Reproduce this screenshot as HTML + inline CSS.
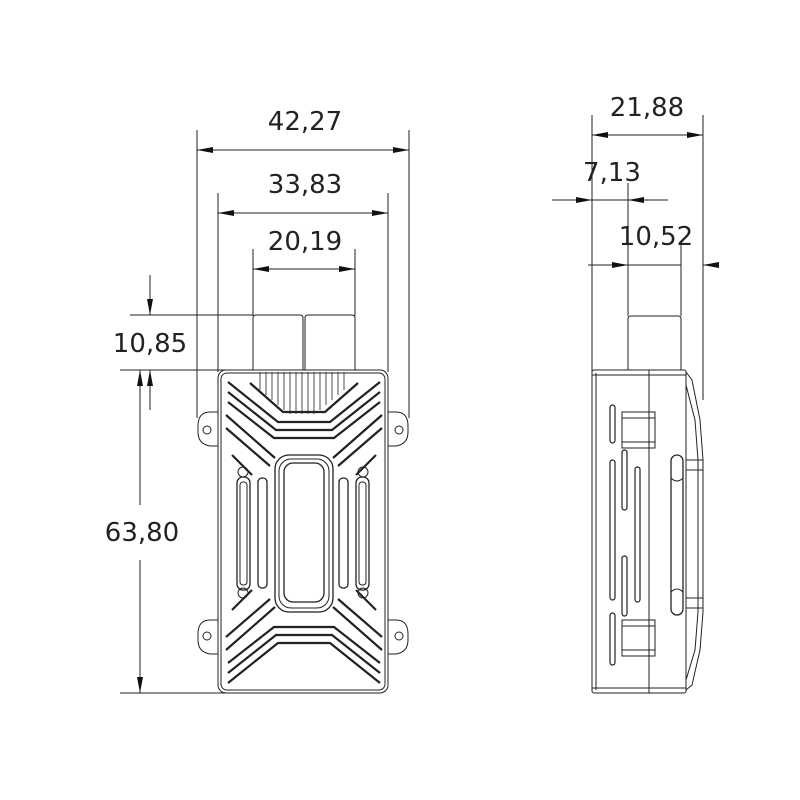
<!DOCTYPE html>
<html><head><meta charset="utf-8"><style>
html,body{margin:0;padding:0;background:#fff;width:800px;height:800px;overflow:hidden}
text{font-family:"DejaVu Sans","Liberation Sans",sans-serif;font-size:26px;fill:#222}
</style></head><body>
<svg width="800" height="800" viewBox="0 0 800 800" xmlns="http://www.w3.org/2000/svg">
<defs>
<marker id="a" viewBox="0 0 16 6" refX="16" refY="3" markerWidth="16" markerHeight="6" markerUnits="userSpaceOnUse" orient="auto-start-reverse"><path d="M0,0 L16,3 L0,6z" fill="#111"/></marker>
</defs>
<g stroke="#222" stroke-width="1" fill="none">
<line x1="197" y1="130" x2="197" y2="418"/>
<line x1="409" y1="130" x2="409" y2="418"/>
<line x1="218" y1="193" x2="218" y2="372"/>
<line x1="388" y1="193" x2="388" y2="372"/>
<line x1="253" y1="249" x2="253" y2="316"/>
<line x1="355" y1="249" x2="355" y2="316"/>
<line x1="130" y1="315" x2="253" y2="315"/>
<line x1="120" y1="370" x2="226" y2="370"/>
<line x1="120" y1="693" x2="226" y2="693"/>
<line x1="197" y1="150" x2="409" y2="150" marker-start="url(#a)" marker-end="url(#a)"/>
<line x1="218" y1="213" x2="388" y2="213" marker-start="url(#a)" marker-end="url(#a)"/>
<line x1="253" y1="269" x2="355" y2="269" marker-start="url(#a)" marker-end="url(#a)"/>
<line x1="150" y1="275" x2="150" y2="315" marker-end="url(#a)"/>
<line x1="150" y1="410" x2="150" y2="370" marker-end="url(#a)"/>
<line x1="140" y1="505" x2="140" y2="370" marker-end="url(#a)"/>
<line x1="140" y1="560" x2="140" y2="693" marker-end="url(#a)"/>
<path d="M253,370 V318 q0,-3 3,-3 H300 q3,0 3,3 V370"/>
<path d="M305,370 V318 q0,-3 3,-3 H352 q3,0 3,3 V370"/>
<path d="M218,412 H210 q-12,0 -12,14 v6 q0,12 12,14 H218"/>
<circle cx="207" cy="430" r="4"/>
<path d="M218,620 H210 q-12,0 -12,14 v6 q0,12 12,14 H218"/>
<circle cx="207" cy="636" r="4"/>
<path d="M388,412 H396 q12,0 12,14 v6 q0,12 -12,14 H388"/>
<circle cx="399" cy="430" r="4"/>
<path d="M388,620 H396 q12,0 12,14 v6 q0,12 -12,14 H388"/>
<circle cx="399" cy="636" r="4"/>
<rect x="218" y="370" width="170" height="323" rx="8"/>
<rect x="221" y="373" width="164" height="317" rx="6"/>
<g stroke-width="0.8">
<line x1="260" y1="372" x2="260" y2="390"/><line x1="266" y1="372" x2="266" y2="395"/>
<line x1="272" y1="372" x2="272" y2="400"/><line x1="278" y1="372" x2="278" y2="405"/>
<line x1="284" y1="372" x2="284" y2="410"/><line x1="290" y1="372" x2="290" y2="414"/>
<line x1="296" y1="372" x2="296" y2="414"/><line x1="302" y1="372" x2="302" y2="414"/>
<line x1="308" y1="372" x2="308" y2="414"/><line x1="314" y1="372" x2="314" y2="414"/>
<line x1="320" y1="372" x2="320" y2="410"/><line x1="326" y1="372" x2="326" y2="405"/>
<line x1="332" y1="372" x2="332" y2="400"/><line x1="338" y1="372" x2="338" y2="395"/>
<line x1="344" y1="372" x2="344" y2="390"/>
</g>
<g stroke-width="2.2">
<path d="M228,382 L278,422 H330 L380,382"/>
<path d="M228,392 L276,430 H332 L380,392"/>
<path d="M228,402 L274,438 H334 L380,402"/>
<path d="M250,383 L283,412 H325 L358,383"/>
<path d="M228,683 L278,643 H330 L380,683"/>
<path d="M228,673 L276,635 H332 L380,673"/>
<path d="M228,663 L274,627 H334 L380,663"/>
<path d="M226,415 L275,458"/><path d="M226,428 L270,466"/>
<path d="M382,415 L333,458"/><path d="M382,428 L338,466"/>
<path d="M226,650 L275,607"/><path d="M226,637 L270,599"/>
<path d="M382,650 L333,607"/><path d="M382,637 L338,599"/>
<path d="M232,455 L252,475"/><path d="M376,455 L356,475"/>
<path d="M232,610 L252,590"/><path d="M376,610 L356,590"/>
</g>
<rect x="275" y="455" width="58" height="157" rx="14" stroke-width="1.3"/>
<rect x="279" y="459" width="50" height="149" rx="12"/>
<rect x="284" y="463" width="40" height="139" rx="9" stroke-width="1.3"/>
<rect x="237" y="477" width="13" height="113" rx="6" stroke-width="1.3"/>
<rect x="240" y="482" width="7" height="103" rx="3"/>
<rect x="258" y="478" width="9" height="110" rx="4" stroke-width="1.3"/>
<rect x="356" y="477" width="13" height="113" rx="6" stroke-width="1.3"/>
<rect x="359" y="482" width="7" height="103" rx="3"/>
<rect x="339" y="478" width="9" height="110" rx="4" stroke-width="1.3"/>
<circle cx="243" cy="472" r="5"/><circle cx="243" cy="593" r="5"/>
<circle cx="363" cy="472" r="5"/><circle cx="363" cy="593" r="5"/>

<line x1="592" y1="115" x2="592" y2="372"/>
<line x1="703" y1="115" x2="703" y2="400"/>
<line x1="628" y1="183" x2="628" y2="316"/>
<line x1="681" y1="245" x2="681" y2="316"/>
<line x1="592" y1="135" x2="703" y2="135" marker-start="url(#a)" marker-end="url(#a)"/>
<line x1="552" y1="200" x2="592" y2="200" marker-end="url(#a)"/>
<line x1="668" y1="200" x2="628" y2="200" marker-end="url(#a)"/>
<line x1="592" y1="200" x2="628" y2="200"/>
<line x1="588" y1="265" x2="628" y2="265" marker-end="url(#a)"/>
<line x1="717" y1="265" x2="703" y2="265" marker-end="url(#a)"/>
<line x1="628" y1="265" x2="681" y2="265"/>
<path d="M628,370 V319 q0,-3 3,-3 H678 q3,0 3,3 V370"/>
<rect x="592" y="370" width="94" height="323" rx="2"/>
<line x1="596" y1="373" x2="596" y2="690"/>
<line x1="592" y1="375" x2="686" y2="375"/>
<line x1="592" y1="688" x2="686" y2="688"/>
<line x1="649" y1="370" x2="649" y2="693"/>
<path d="M686,372 L692,380 L700,420 L703,460 V612 L700,650 L692,685 L686,690"/>
<path d="M686,385 L695,420 L698,460 V612 L695,650 L686,680"/>
<line x1="686" y1="460" x2="703" y2="460"/><line x1="686" y1="470" x2="703" y2="470"/>
<line x1="686" y1="598" x2="703" y2="598"/><line x1="686" y1="608" x2="703" y2="608"/>
<rect x="671" y="455" width="12" height="160" rx="6" stroke-width="1.3"/>
<path d="M671,478 q6,6 12,0 M671,592 q6,-6 12,0"/>
<rect x="622" y="412" width="33" height="36"/><line x1="622" y1="418" x2="655" y2="418"/><line x1="622" y1="442" x2="655" y2="442"/>
<rect x="622" y="620" width="33" height="36"/><line x1="622" y1="626" x2="655" y2="626"/><line x1="622" y1="650" x2="655" y2="650"/>
<rect x="610" y="405" width="5" height="38" rx="2.5" stroke-width="1.2"/>
<rect x="610" y="460" width="5" height="140" rx="2.5" stroke-width="1.2"/>
<rect x="610" y="613" width="5" height="52" rx="2.5" stroke-width="1.2"/>
<rect x="622" y="450" width="5" height="60" rx="2.5" stroke-width="1.2"/>
<rect x="622" y="556" width="5" height="60" rx="2.5" stroke-width="1.2"/>
<rect x="635" y="467" width="5" height="135" rx="2.5" stroke-width="1.2"/>
</g>
<text x="305" y="130" text-anchor="middle">42,27</text>
<text x="305" y="193" text-anchor="middle">33,83</text>
<text x="305" y="250" text-anchor="middle">20,19</text>
<text x="150" y="352" text-anchor="middle">10,85</text>
<text x="142" y="541" text-anchor="middle">63,80</text>
<text x="647" y="116" text-anchor="middle">21,88</text>
<text x="612" y="181" text-anchor="middle">7,13</text>
<text x="656" y="245" text-anchor="middle">10,52</text>
</svg>
</body></html>
